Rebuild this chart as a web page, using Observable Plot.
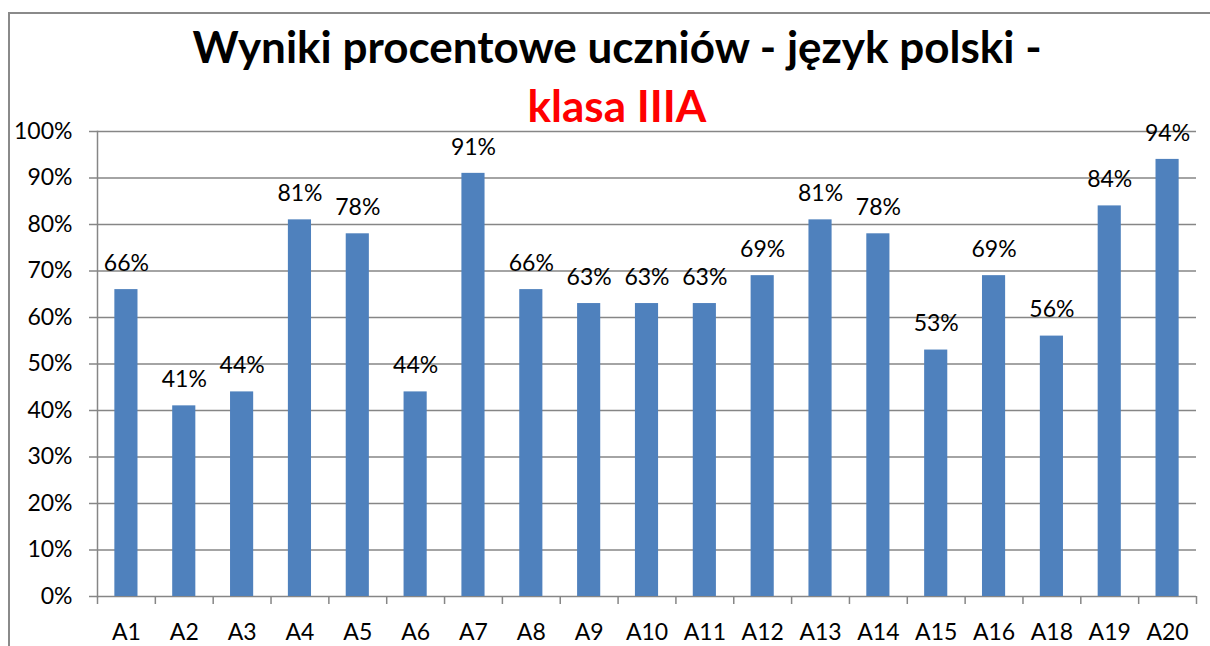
<!DOCTYPE html>
<html>
<head>
<meta charset="utf-8">
<script src="https://cdn.jsdelivr.net/npm/d3@7"></script>
<script src="https://cdn.jsdelivr.net/npm/@observablehq/plot@0.6"></script>
<style>
  html, body { margin: 0; padding: 0; background: #fff; width: 1210px; height: 646px; overflow: hidden; }
  #frame { position: absolute; left: 8px; top: 12px; width: 1204px; height: 640px; border: 2px solid #8a8a8a; box-sizing: border-box; }
  #title { position: absolute; left: 0; top: 17px; width: 1210px; padding-left: 24px; box-sizing: border-box; text-align: center; font-family: Lato, "Open Sans", sans-serif; font-weight: bold; font-size: 44px; line-height: 59px; color: #000; z-index: 2; }
  #title .red { color: #ff0000; }
  #chart { position: absolute; left: 0; top: 100px; z-index: 1; }
  #chart svg { background: transparent !important; }
  #chart svg text { font-size: 23px !important; font-family: Lato, "Open Sans", sans-serif !important; fill: #000; }
</style>
</head>
<body>
<div id="frame"></div>
<div id="title">Wyniki procentowe uczniów - język polski -<br><span class="red">klasa IIIA</span></div>
<div id="chart"></div>
<script>
const categories = ["A1","A2","A3","A4","A5","A6","A7","A8","A9","A10","A11","A12","A13","A14","A15","A16","A18","A19","A20"];
const values = [66,41,44,81,78,44,91,66,63,63,63,69,81,78,53,69,56,84,94];
const yTicks = [0,10,20,30,40,50,60,70,80,90,100];

const data = categories.map((c, i) => ({cat: c, v: values[i]}));
const W = 1210, H = 546, mL = 97, mR = 14, mT = 31, mB = 50;
const step = (W - mL - mR) / categories.length;
const grey = "#868686";

const chart = Plot.plot({
  width: W, height: H,
  marginLeft: mL, marginRight: mR, marginTop: mT, marginBottom: mB,
  style: {fontFamily: "Lato, 'Open Sans', sans-serif", fontSize: "23px", color: "#000", background: "transparent", overflow: "visible"},
  x: {domain: categories, paddingInner: 0.6, paddingOuter: 0.3, round: false, label: null},
  y: {domain: [0, 100], label: null},
  marks: [
    Plot.gridY(yTicks, {stroke: grey, strokeOpacity: 1, strokeWidth: 1.5}),
    Plot.axisY(yTicks, {tickSize: 8, tickPadding: 17, stroke: grey, strokeWidth: 1.5, fill: "#000", fontSize: 23, tickFormat: d => d + "%", label: null}),
    Plot.frame({anchor: "left", stroke: grey, strokeWidth: 1.5}),
    Plot.barY(data, {x: "cat", y: "v", fill: "#4F81BD"}),
    Plot.ruleX(categories, {x: d => d, y1: 0, y2: 0, dx: -step / 2, insetBottom: -8, stroke: grey, strokeWidth: 1.5}),
    Plot.ruleX(categories.slice(-1), {x: d => d, y1: 0, y2: 0, dx: step / 2, insetBottom: -8, stroke: grey, strokeWidth: 1.5}),
    Plot.axisX({tickSize: 0, tickPadding: 27, fontSize: 23, fill: "#000", label: null}),
    Plot.text(data, {x: "cat", y: "v", text: d => d.v + "%", dy: -26, fontSize: 23, fill: "#000"})
  ]
});
document.getElementById("chart").appendChild(chart);
</script>
</body>
</html>
